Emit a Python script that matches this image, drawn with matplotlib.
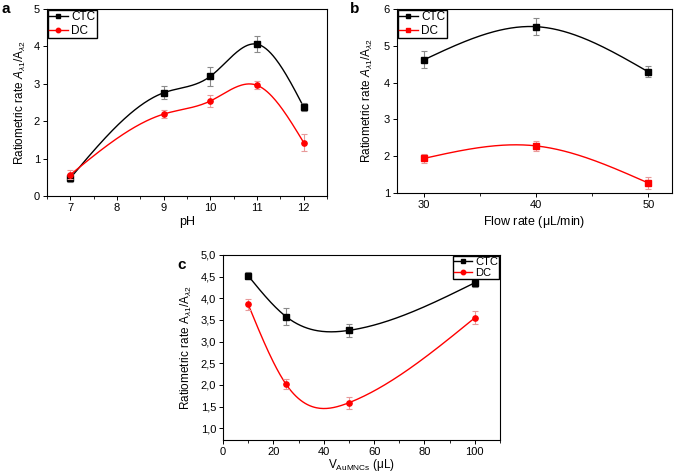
import matplotlib
matplotlib.use("Agg")
import matplotlib.pyplot as plt
from matplotlib.ticker import FuncFormatter, AutoMinorLocator
import numpy as np

plt.rcParams['font.family'] = ['Liberation Sans', 'DejaVu Sans']
plt.rcParams['mathtext.fontset'] = 'custom'
plt.rcParams['mathtext.rm'] = 'Liberation Sans'
plt.rcParams['mathtext.it'] = 'Liberation Sans:italic'

# panel a: pH
ph = [7, 9, 10, 11, 12]
ph_ctc = [0.48, 2.76, 3.20, 4.06, 2.38]
ph_ctc_err = [0.10, 0.17, 0.25, 0.22, 0.10]
ph_dc = [0.57, 2.19, 2.54, 2.96, 1.43]
ph_dc_err = [0.12, 0.10, 0.15, 0.11, 0.24]

# panel b: flow rate
flow = [30, 40, 50]
flow_ctc = [4.62, 5.52, 4.29]
flow_ctc_err = [0.23, 0.23, 0.15]
flow_dc = [1.94, 2.28, 1.27]
flow_dc_err = [0.12, 0.14, 0.16]

# panel c: AuMNCs volume
vol = [10, 25, 50, 100]
vol_ctc = [4.52, 3.58, 3.26, 4.36]
vol_ctc_err = [0.08, 0.20, 0.15, 0.10]
vol_dc = [3.86, 2.02, 1.59, 3.55]
vol_dc_err = [0.12, 0.12, 0.14, 0.15]


def spline(x, y, n=200):
    # natural cubic spline for the smoothed connecting line
    x = np.asarray(x, float)
    y = np.asarray(y, float)
    k = len(x)
    h = np.diff(x)
    A = np.zeros((k, k))
    r = np.zeros(k)
    A[0, 0] = A[-1, -1] = 1
    for i in range(1, k - 1):
        A[i, i - 1] = h[i - 1]
        A[i, i] = 2 * (h[i - 1] + h[i])
        A[i, i + 1] = h[i]
        r[i] = 6 * ((y[i + 1] - y[i]) / h[i] - (y[i] - y[i - 1]) / h[i - 1])
    m = np.linalg.solve(A, r)
    xs = np.linspace(x[0], x[-1], n)
    idx = np.clip(np.searchsorted(x, xs) - 1, 0, k - 2)
    t0 = x[idx]
    t1 = x[idx + 1]
    hh = t1 - t0
    a = (t1 - xs) / hh
    b = (xs - t0) / hh
    ys = a * y[idx] + b * y[idx + 1] + ((a**3 - a) * m[idx] + (b**3 - b) * m[idx + 1]) * hh**2 / 6
    return xs, ys


def draw(ax, x, y, err, color, ecolor, marker, label):
    xs, ys = spline(x, y)
    ax.plot(xs, ys, color=color, lw=1)
    ax.errorbar(x, y, yerr=err, fmt='none', ecolor=ecolor, elinewidth=0.8, capsize=2.5, capthick=0.8)
    ax.plot(x, y, color=color, lw=0, marker=marker, ms=3.8)
    ax.plot([], [], color=color, lw=1, marker=marker, ms=3.2, label=label)


def style(ax):
    ax.tick_params(direction='out', labelsize=8, length=3, width=0.7, pad=2)
    ax.tick_params(which='minor', direction='out', length=2, width=0.6)
    ax.tick_params(axis='y', which='minor', left=False)
    ax.xaxis.set_minor_locator(AutoMinorLocator(2))
    for s in ax.spines.values():
        s.set_linewidth(0.8)


def legend(ax, loc, size=8.5, spacing=0.15):
    ax.legend(loc=loc, fontsize=size, frameon=True, fancybox=False, edgecolor='black',
              borderpad=0.12, handlelength=1.6, handletextpad=0.3, borderaxespad=0.05,
              labelspacing=spacing, framealpha=1)


fig = plt.figure(figsize=(6.77, 4.74), dpi=100)
W, H = 677, 474


def axes_px(l, t, r, b):
    return fig.add_axes([l / W, 1 - b / H, (r - l) / W, (b - t) / H])


ylab = r"Ratiometric rate $\mathit{A}_{\lambda1}/\mathrm{A}_{\lambda2}$"
grey = '#8a8a8a'
pink = '#e89a9a'

# a
ax = axes_px(47, 9, 327, 196)
draw(ax, ph, ph_ctc, ph_ctc_err, 'black', grey, 's', 'CTC')
draw(ax, ph, ph_dc, ph_dc_err, 'red', pink, 'o', 'DC')
ax.set_xlim(6.5, 12.5)
ax.set_ylim(0, 5)
ax.set_xticks([7, 8, 9, 10, 11, 12])
ax.set_yticks([0, 1, 2, 3, 4, 5])
ax.set_xlabel('pH', fontsize=9, labelpad=2)
ax.set_ylabel(ylab, fontsize=8.5, labelpad=4)
style(ax)
legend(ax, 'upper left')
fig.text(2 / W, 1 - 2 / H, 'a', fontsize=11, fontweight='bold', va='top', ha='left')

# b
ax = axes_px(397, 9, 672, 193)
draw(ax, flow, flow_ctc, flow_ctc_err, 'black', grey, 's', 'CTC')
draw(ax, flow, flow_dc, flow_dc_err, 'red', pink, 's', 'DC')
ax.set_xlim(27.6, 52.1)
ax.set_ylim(1, 6)
ax.set_xticks([30, 40, 50])
ax.set_yticks([1, 2, 3, 4, 5, 6])
ax.set_xlabel(r'Flow rate ($\mathrm{\mu}$L/min)', fontsize=9, labelpad=3)
ax.set_ylabel(ylab, fontsize=8.5, labelpad=6)
style(ax)
legend(ax, 'upper left')
fig.text(350 / W, 1 - 2 / H, 'b', fontsize=11, fontweight='bold', va='top', ha='left')

# c
ax = axes_px(223, 255, 500, 440)
draw(ax, vol, vol_ctc, vol_ctc_err, 'black', grey, 's', 'CTC')
draw(ax, vol, vol_dc, vol_dc_err, 'red', pink, 'o', 'DC')
ax.set_xlim(0, 110)
ax.set_ylim(0.73, 5.0)
ax.set_xticks([0, 20, 40, 60, 80, 100])
ax.set_yticks([1.0, 1.5, 2.0, 2.5, 3.0, 3.5, 4.0, 4.5, 5.0])
ax.yaxis.set_major_formatter(FuncFormatter(lambda v, p: f'{v:.1f}'.replace('.', ',')))
ax.set_xlabel(r'$\mathrm{V_{AuMNCs}}$ ($\mathrm{\mu}$L)', fontsize=8.5, labelpad=0)
ax.set_ylabel(r"Ratiometric rate $\mathrm{A}_{\lambda1}/\mathrm{A}_{\lambda2}$", fontsize=8.5, labelpad=5)
style(ax)
legend(ax, 'upper right', size=8, spacing=0.08)
fig.text(177 / W, 1 - 258 / H, 'c', fontsize=11, fontweight='bold', va='top', ha='left')

fig.savefig('out.png', dpi=100)
